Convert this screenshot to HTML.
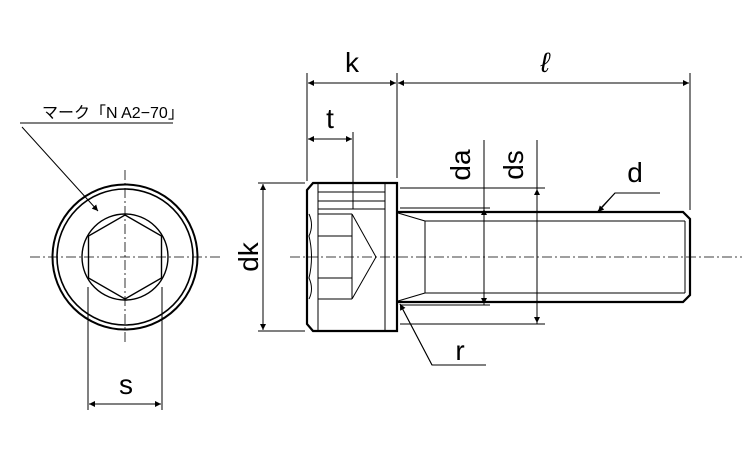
<!DOCTYPE html>
<html><head><meta charset="utf-8"><style>
html,body{margin:0;padding:0;background:#fff;}
svg{display:block;}
text{font-family:"Liberation Sans","Noto Sans CJK JP",sans-serif;fill:#000;}
</style></head><body>
<svg width="750" height="450" viewBox="0 0 750 450" xmlns="http://www.w3.org/2000/svg">
<defs>
<marker id="a" viewBox="0 0 10 10" refX="10" refY="5" markerWidth="10" markerHeight="6" orient="auto-start-reverse" markerUnits="userSpaceOnUse"><path d="M0,0 L10,5 L0,10 z" fill="#000"/></marker>
</defs>
<g stroke="#000" fill="none">
<g stroke-width="0.8" stroke-dasharray="10,3,2,3">
<line x1="30" y1="257" x2="222" y2="257"/>
<line x1="125" y1="170" x2="125" y2="345"/>
<line x1="290" y1="257" x2="742" y2="257"/>
</g>
<circle cx="125" cy="257" r="72.5" stroke-width="2"/>
<circle cx="125" cy="257" r="68" stroke-width="1.6"/>
<circle cx="125" cy="257" r="43" stroke-width="1.4"/>
<polygon points="125,215 161.5,236 161.5,278 125,299 88.5,278 88.5,236" stroke-width="1.4"/>
<g stroke-width="1">
<line x1="88" y1="287" x2="88" y2="410"/>
<line x1="162" y1="287" x2="162" y2="410"/>
<line x1="89" y1="404" x2="161" y2="404" marker-start="url(#a)" marker-end="url(#a)"/>
<line x1="20" y1="123" x2="173" y2="123"/>
<line x1="22" y1="127" x2="98" y2="211" marker-end="url(#a)"/>
</g>
<path d="M313,183 L397,183 L397,331 L313,331 L307,324 L307,190 Z" stroke-width="2.2"/>
<g stroke-width="1">
<line x1="318" y1="183" x2="318" y2="331"/>
<line x1="385" y1="183" x2="385" y2="331"/>
<line x1="318" y1="192" x2="385" y2="192"/>
<line x1="318" y1="201" x2="385" y2="201"/>
<line x1="318" y1="209" x2="385" y2="209"/>
<line x1="318" y1="214" x2="352" y2="214"/>
<line x1="318" y1="236" x2="352" y2="236"/>
<line x1="318" y1="278" x2="352" y2="278"/>
<line x1="318" y1="299" x2="352" y2="299"/>
<polyline points="352,214 352,299"/>
<polyline points="352,214 376,257 352,299"/>
<path d="M309,214 Q314,225 309,236 Q314,257 309,278 Q314,289 309,299"/>
</g>
<path d="M397,212 L683,212 L690,219 L690,295 L683,302 L397,302" stroke-width="2.2"/>
<g stroke-width="1">
<line x1="398" y1="213" x2="425" y2="221"/>
<line x1="398" y1="301" x2="425" y2="293"/>
<line x1="425" y1="221" x2="685" y2="221"/>
<line x1="425" y1="293" x2="685" y2="293"/>
<line x1="425" y1="221" x2="425" y2="293"/>
<line x1="685" y1="221" x2="685" y2="293"/>
<line x1="307" y1="73" x2="307" y2="181"/>
<line x1="397" y1="73" x2="397" y2="178"/>
<line x1="690" y1="73" x2="690" y2="210"/>
<line x1="308" y1="83" x2="396" y2="83" marker-start="url(#a)" marker-end="url(#a)"/>
<line x1="398" y1="83" x2="689" y2="83" marker-start="url(#a)" marker-end="url(#a)"/>
<line x1="353" y1="132" x2="353" y2="209"/>
<line x1="308" y1="139" x2="352" y2="139" marker-start="url(#a)" marker-end="url(#a)"/>
<line x1="258" y1="183" x2="305" y2="183"/>
<line x1="258" y1="331" x2="305" y2="331"/>
<line x1="263" y1="184" x2="263" y2="330" marker-start="url(#a)" marker-end="url(#a)"/>
<line x1="484" y1="140" x2="484" y2="305"/>
<line x1="400" y1="208" x2="490" y2="208"/>
<line x1="400" y1="305" x2="490" y2="305"/>
<line x1="484" y1="209" x2="484" y2="304" marker-start="url(#a)" marker-end="url(#a)"/>
<line x1="537" y1="140" x2="537" y2="324"/>
<line x1="400" y1="188" x2="545" y2="188"/>
<line x1="400" y1="324" x2="545" y2="324"/>
<line x1="537" y1="189" x2="537" y2="323" marker-start="url(#a)" marker-end="url(#a)"/>
<polyline points="660,193 615,193 598,211"/>
<line x1="615" y1="193" x2="598" y2="212" marker-end="url(#a)"/>
<polyline points="486,365 432,365 400,304"/>
<line x1="432" y1="365" x2="400" y2="304" marker-end="url(#a)"/>
</g>
</g>
<g font-size="28">
<text x="352" y="72" text-anchor="middle">k</text>
<text x="545" y="72" text-anchor="middle" font-style="italic">ℓ</text>
<text x="330" y="128" text-anchor="middle">t</text>
<text x="635" y="182" text-anchor="middle">d</text>
<text x="460" y="360" text-anchor="middle">r</text>
<text x="126" y="394" text-anchor="middle">s</text>
<text transform="translate(470,165) rotate(-90)" text-anchor="middle">da</text>
<text transform="translate(523,165) rotate(-90)" text-anchor="middle">ds</text>
<text transform="translate(258,257) rotate(-90)" text-anchor="middle">dk</text>
</g>
<text x="42" y="118" font-size="16">マーク「N A2−70」</text>
</svg>
</body></html>
